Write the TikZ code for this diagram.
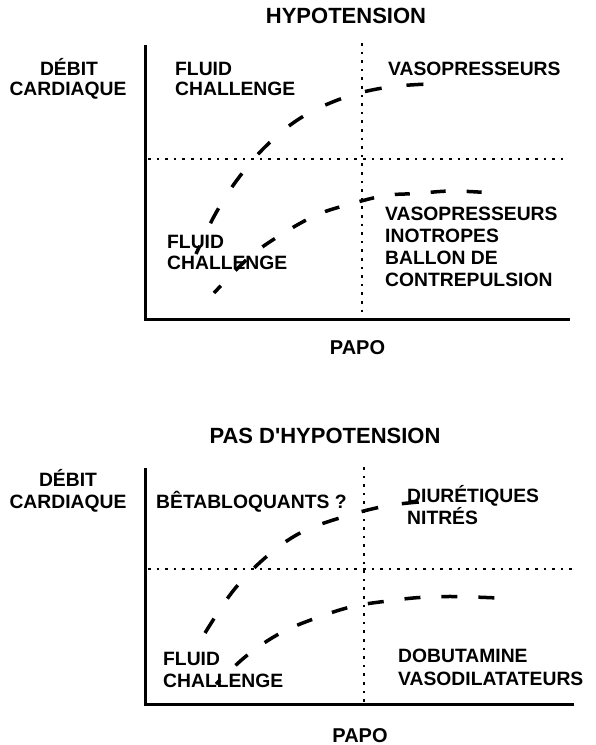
\documentclass[tikz,border=0pt]{standalone}
\usepackage{fontspec}
\setmainfont{Liberation Sans}
\begin{document}
\begin{tikzpicture}[x=1pt,y=-1pt,
  lbl/.style={font=\fontsize{19.3}{22}\selectfont\bfseries, inner sep=0pt, anchor=base west},
  lblc/.style={lbl, anchor=base},
  ttl/.style={font=\fontsize{22}{26}\selectfont\bfseries, inner sep=0pt, anchor=base},
  papo/.style={font=\fontsize{20}{24}\selectfont\bfseries, inner sep=0pt, anchor=base},
  axis/.style={line width=3pt},
  dotline/.style={line width=2.5pt, dash pattern=on 2.6pt off 6pt},
  curve/.style={line width=3.5pt}]
\useasboundingbox[fill=white] (0,0) rectangle (596,745);

% ---------- top chart ----------
\node[ttl] (t1) at (346,23) {HYPOTENSION};
\node[lblc] (yl1a) at (69,75) {DÉBIT};
\node[lblc] (yl1b) at (68,95) {CARDIAQUE};
\node[lbl] (fc1a) at (175,75) {FLUID};
\node[lbl] (fc1b) at (175,95) {CHALLENGE};
\node[lbl] (vp1) at (388,75) {VASOPRESSEURS};
\node[lbl] (fc2a) at (167,248) {FLUID};
\node[lbl] (fc2b) at (167,269) {CHALLENGE};
\node[lbl] (r1) at (385,220) {VASOPRESSEURS};
\node[lbl] (r2) at (385,242) {INOTROPES};
\node[lbl] (r3) at (385,264) {BALLON DE};
\node[lbl] (r4) at (385,286) {CONTREPULSION};
\node[papo] (px1) at (357.5,354) {PAPO};

\coordinate (ytop1) at (145,45);
\coordinate (o1) at (145,319);
\coordinate (xend1) at (570,319);
\draw[axis] (ytop1) -- (o1) -- (xend1);
\coordinate (v1t) at (362,43);
\coordinate (v1b) at (362,317);
\coordinate (h1l) at (148,159);
\coordinate (h1r) at (568,159);
\draw[dotline] (v1t) -- (v1b);
\draw[dotline] (h1l) -- (h1r);

\draw[curve, dash pattern=on 17pt off 25pt, dash phase=8pt]
  plot[smooth, tension=0.6] coordinates {(196,254) (214.5,215.5) (237,180) (265.5,146.5) (300.5,118) (343,98) (385.5,87.5) (428,84)};
\draw[curve, dash pattern=on 15pt off 21pt, dash phase=5pt]
  plot[smooth, tension=0.6] coordinates {(214,293) (249,257.5) (280.5,235) (316.5,215) (350.5,204) (385.5,195.5) (416.5,193.5) (452,191) (493,193)};

% ---------- bottom chart ----------
\node[ttl] (t2) at (325,443) {PAS D\textquotesingle HYPOTENSION};
\node[lblc] (yl2a) at (68,486) {DÉBIT};
\node[lblc] (yl2b) at (68,508) {CARDIAQUE};
\node[lbl] (bb) at (156,508) {BÊTABLOQUANTS ?};
\node[lbl] (di1) at (407,502) {DIURÉTIQUES};
\node[lbl] (di2) at (407,524) {NITRÉS};
\node[lbl] (fc3a) at (163,665) {FLUID};
\node[lbl] (fc3b) at (163,687) {CHALLENGE};
\node[lbl] (db1) at (398,662) {DOBUTAMINE};
\node[lbl] (db2) at (398,685) {VASODILATATEURS};
\node[papo] (px2) at (360,742) {PAPO};

\coordinate (ytop2) at (145,468);
\coordinate (o2) at (145,704);
\coordinate (xend2) at (574,704);
\draw[axis] (ytop2) -- (o2) -- (xend2);
\coordinate (v2t) at (364,467);
\coordinate (v2b) at (364,702);
\coordinate (h2l) at (148,569);
\coordinate (h2r) at (572,569);
\draw[dotline] (v2t) -- (v2b);
\draw[dotline] (h2l) -- (h2r);

\draw[curve, dash pattern=on 17pt off 24pt]
  plot[smooth, tension=0.6] coordinates {(205,633) (233,591) (265.5,557.5) (301,532.5) (344.5,516.5) (388.5,505.5) (432,501)};
\draw[curve, dash pattern=on 16pt off 21pt, dash phase=10pt]
  plot[smooth, tension=0.6] coordinates {(216,684) (247.5,655) (281.5,632.5) (317.5,617.5) (352.5,606.5) (387.5,601) (419.5,597.5) (454.5,596.5) (498,598)};
\end{tikzpicture}
\end{document}
